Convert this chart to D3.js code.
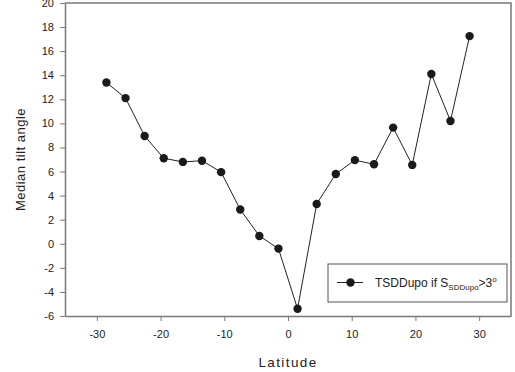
<!DOCTYPE html>
<html>
<head>
<meta charset="utf-8">
<script src="https://cdn.jsdelivr.net/npm/d3@7"></script>
<style>
  body { margin: 0; background: #fff; }
  svg { display: block; font-family: "Liberation Sans", Arial, sans-serif; }
</style>
</head>
<body>
<svg width="515" height="372"></svg>
<script>
// latitude bins and median tilt values
const latitudes = [-28.5, -25.5, -22.5, -19.5, -16.5, -13.5, -10.5, -7.5, -4.5, -1.5,
  1.5, 4.5, 7.5, 10.5, 13.5, 16.5, 19.5, 22.5, 25.5, 28.5];
const tiltValues = [13.4, 12.1, 8.95, 7.1, 6.8, 6.9, 5.95, 2.85, 0.65, -0.4,
  -5.4, 3.3, 5.8, 6.95, 6.6, 9.65, 6.55, 14.1, 10.2, 17.25];
const xTicks = [-30, -20, -10, 0, 10, 20, 30];
const yTicks = [-6, -4, -2, 0, 2, 4, 6, 8, 10, 12, 14, 16, 18, 20];

const svg = d3.select("svg");
const margin = { left: 65, right: 4, top: 3, bottom: 56 };
const width = 515, height = 372;

const x = d3.scaleLinear().domain([-35, 35]).range([margin.left, width - margin.right]);
const y = d3.scaleLinear().domain([-6, 20]).range([height - margin.bottom, margin.top]);

const axisColor = "#7a7a7a";
const fmt = d => String(d); // plain hyphen minus like the original

// x axis
const gx = svg.append("g")
  .attr("transform", `translate(0,${y(-6)})`)
  .call(d3.axisBottom(x).tickValues(xTicks).tickFormat(fmt).tickSize(5).tickPadding(9).tickSizeOuter(0));
// y axis
const gy = svg.append("g")
  .attr("transform", `translate(${x(-35)},0)`)
  .call(d3.axisLeft(y).tickValues(yTicks).tickFormat(fmt).tickSize(5).tickPadding(6).tickSizeOuter(0));

[gx, gy].forEach(g => {
  g.select(".domain").attr("stroke", axisColor).attr("stroke-width", 1.5);
  g.selectAll(".tick line").attr("stroke", axisColor).attr("stroke-width", 1);
  g.selectAll(".tick text").attr("fill", "#222").attr("font-size", 11)
    .attr("font-family", "Liberation Sans, Arial, sans-serif");
});

// top and right frame
svg.append("path")
  .attr("d", `M${x(-35)},${y(20)}H${x(35)}V${y(-6)}`)
  .attr("fill", "none").attr("stroke", axisColor).attr("stroke-width", 1.5);

// axis titles
svg.append("text")
  .attr("x", x(0)).attr("y", 367)
  .attr("text-anchor", "middle").attr("font-size", 13.5)
  .attr("letter-spacing", 1.4).attr("fill", "#222")
  .text("Latitude");
svg.append("text")
  .attr("transform", `translate(25,${(y(-6) + y(20)) / 2}) rotate(-90)`)
  .attr("text-anchor", "middle").attr("font-size", 13)
  .attr("letter-spacing", 0.5).attr("fill", "#222")
  .text("Median tilt angle");

const points = latitudes.map((lat, i) => ({ lat, v: tiltValues[i] }));

svg.append("path")
  .datum(points)
  .attr("fill", "none").attr("stroke", "#222").attr("stroke-width", 1)
  .attr("d", d3.line().x(d => x(d.lat)).y(d => y(d.v)));

svg.append("g").selectAll("circle")
  .data(points)
  .join("circle")
  .attr("cx", d => x(d.lat)).attr("cy", d => y(d.v))
  .attr("r", 4.2).attr("fill", "#1a1a1a");

// legend
const lg = svg.append("g").attr("transform", "translate(328,264)");
lg.append("rect").attr("width", 179).attr("height", 38)
  .attr("fill", "#fff").attr("stroke", "#555").attr("stroke-width", 1);
lg.append("line").attr("x1", 9).attr("x2", 35).attr("y1", 18.5).attr("y2", 18.5)
  .attr("stroke", "#222");
lg.append("circle").attr("cx", 22.5).attr("cy", 18.5).attr("r", 4.2).attr("fill", "#1a1a1a");
const lt = lg.append("text").attr("x", 47).attr("y", 22.5).attr("font-size", 12).attr("fill", "#222");
lt.append("tspan").text("TSDDupo if S");
lt.append("tspan").attr("font-size", 8).attr("dy", 3).text("SDDupo");
lt.append("tspan").attr("dy", -3).text(">3");
lt.append("tspan").attr("font-size", 8).attr("dy", -5).text("o");
</script>
</body>
</html>
